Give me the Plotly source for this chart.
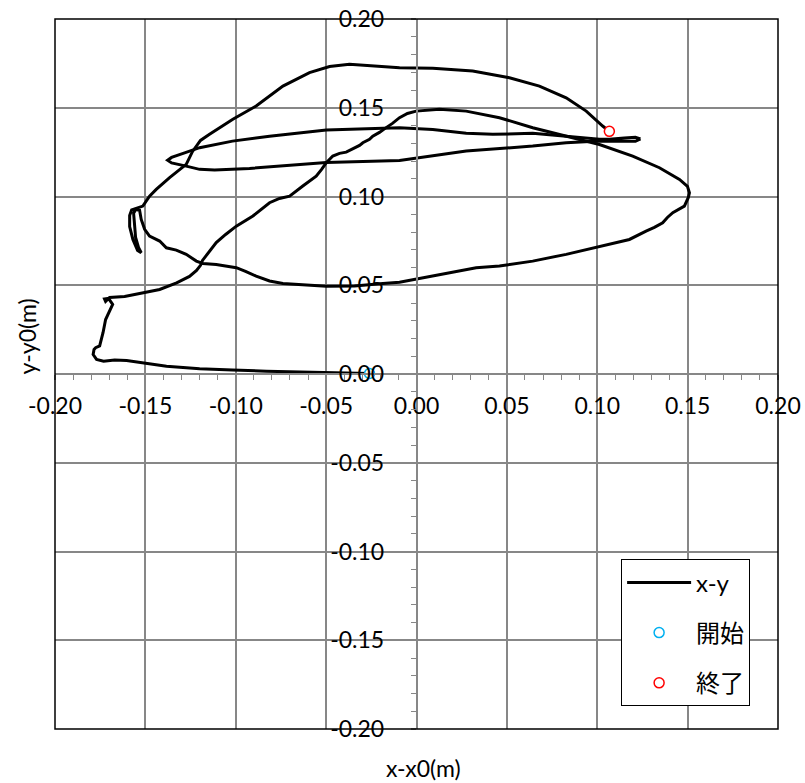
import plotly.graph_objects as go

# main trajectory (x-x0, y-y0) in metres
path_x = [-0.0260, -0.0465, -0.0647, -0.0830, -0.1018, -0.1200, -0.1383, -0.1515, -0.1604, -0.1670,
          -0.1731, -0.1770, -0.1789, -0.1784, -0.1775, -0.1753, -0.1742, -0.1734, -0.1720, -0.1698,
          -0.1681, -0.1704, -0.1726, -0.1720, -0.1698, -0.1615, -0.1515, -0.1421, -0.1327, -0.1256,
          -0.1217, -0.1195, -0.1184, -0.1145, -0.1108, -0.1056, -0.0997, -0.0905, -0.0857, -0.0813,
          -0.0758, -0.0702, -0.0629, -0.0592, -0.0555, -0.0525, -0.0499, -0.0463, -0.0426, -0.0389,
          -0.0370, -0.0352, -0.0315, -0.0297, -0.0260, -0.0242, -0.0205, -0.0168, -0.0133, -0.0094,
          -0.0050, -0.0002, 0.0127, 0.0275, 0.0459, 0.0643, 0.0828, 0.1012, 0.1196, 0.1344,
          0.1455, 0.1499, 0.1510, 0.1504, 0.1482, 0.1418, 0.1388, 0.1362, 0.1316, 0.1270,
          0.1178, 0.1012, 0.0828, 0.0643, 0.0459, 0.0330, 0.0090, -0.0094, -0.0186, -0.0343,
          -0.0499, -0.0647, -0.0739, -0.0813, -0.0887, -0.0946, -0.0997, -0.1108, -0.1182, -0.1218,
          -0.1274, -0.1329, -0.1384, -0.1421, -0.1477, -0.1504, -0.1523, -0.1532, -0.1554, -0.1565,
          -0.1560, -0.1554, -0.1538, -0.1523, -0.1543, -0.1569, -0.1587, -0.1587, -0.1576, -0.1549,
          -0.1527, -0.1514, -0.1477, -0.1440, -0.1366, -0.1274, -0.1239, -0.1217, -0.1195, -0.1145,
          -0.1016, -0.0887, -0.0739, -0.0592, -0.0481, -0.0371, -0.0260, -0.0094, 0.0090, 0.0311,
          0.0514, 0.0680, 0.0828, 0.0939, 0.1030, 0.1067]
path_y = [0.0003, 0.0007, 0.0011, 0.0016, 0.0023, 0.0029, 0.0044, 0.0063, 0.0076, 0.0079,
          0.0072, 0.0082, 0.0110, 0.0138, 0.0148, 0.0158, 0.0194, 0.0234, 0.0307, 0.0358,
          0.0392, 0.0426, 0.0423, 0.0409, 0.0431, 0.0437, 0.0458, 0.0476, 0.0514, 0.0550,
          0.0583, 0.0612, 0.0640, 0.0691, 0.0740, 0.0786, 0.0833, 0.0890, 0.0927, 0.0965,
          0.0989, 0.1002, 0.1059, 0.1085, 0.1115, 0.1153, 0.1191, 0.1228, 0.1243, 0.1250,
          0.1260, 0.1271, 0.1288, 0.1303, 0.1322, 0.1340, 0.1361, 0.1388, 0.1412, 0.1444,
          0.1468, 0.1481, 0.1491, 0.1481, 0.1444, 0.1387, 0.1340, 0.1293, 0.1228, 0.1162,
          0.1096, 0.1057, 0.1021, 0.0995, 0.0946, 0.0909, 0.0882, 0.0852, 0.0826, 0.0805,
          0.0758, 0.0717, 0.0674, 0.0636, 0.0608, 0.0599, 0.0551, 0.0517, 0.0510, 0.0496,
          0.0495, 0.0502, 0.0510, 0.0524, 0.0551, 0.0578, 0.0599, 0.0617, 0.0623, 0.0636,
          0.0674, 0.0698, 0.0711, 0.0749, 0.0777, 0.0815, 0.0871, 0.0922, 0.0927, 0.0905,
          0.0843, 0.0769, 0.0713, 0.0683, 0.0696, 0.0758, 0.0831, 0.0893, 0.0924, 0.0933,
          0.0939, 0.0946, 0.1002, 0.1040, 0.1106, 0.1181, 0.1254, 0.1288, 0.1316, 0.1350,
          0.1435, 0.1510, 0.1622, 0.1698, 0.1732, 0.1745, 0.1739, 0.1726, 0.1722, 0.1707,
          0.1669, 0.1622, 0.1556, 0.1481, 0.1397, 0.1367]

# closed horizontal loop of the trajectory (around y = 0.12-0.14)
loop_x = [0.1239, 0.1211, 0.1150, 0.1067, 0.1012, 0.0828, 0.0643, 0.0422, 0.0275, 0.0090,
          -0.0094, -0.0499, -0.0813, -0.1018, -0.1200, -0.1283, -0.1355, -0.1377, -0.1355, -0.1274,
          -0.1200, -0.1117, -0.0924, -0.0499, -0.0094, 0.0275, 0.0643, 0.0828, 0.1012, 0.1150,
          0.1211, 0.1239]
loop_y = [0.1325, 0.1334, 0.1330, 0.1322, 0.1322, 0.1340, 0.1356, 0.1350, 0.1356, 0.1378,
          0.1388, 0.1374, 0.1340, 0.1312, 0.1275, 0.1246, 0.1220, 0.1204, 0.1189, 0.1171,
          0.1153, 0.1150, 0.1158, 0.1191, 0.1203, 0.1256, 0.1284, 0.1303, 0.1313, 0.1311,
          0.1311, 0.1325]

start_x, start_y = [-0.0260], [0.0003]
end_x, end_y = [0.1067], [0.1367]

tick_vals = [-0.20, -0.15, -0.10, -0.05, 0.00, 0.05, 0.10, 0.15, 0.20]
tick_text = ["-0.20", "-0.15", "-0.10", "-0.05", "0.00", "0.05", "0.10", "0.15", "0.20"]

FONT = "Lato, 'Noto Sans CJK JP', sans-serif"
GRID = "#878787"

line_x = path_x + [None] + loop_x
line_y = path_y + [None] + loop_y

fig = go.Figure()
fig.add_trace(go.Scatter(x=line_x, y=line_y, mode="lines", name="x-y",
                         line=dict(color="black", width=3), legendgroup="a"))
fig.add_trace(go.Scatter(x=start_x, y=start_y, mode="markers", name="開始", legendgroup="b",
                         marker=dict(symbol="circle", size=10, color="white",
                                     line=dict(color="#00B0F0", width=1.5))))
fig.add_trace(go.Scatter(x=end_x, y=end_y, mode="markers", name="終了", legendgroup="c",
                         marker=dict(symbol="circle", size=10, color="white",
                                     line=dict(color="#FF0000", width=1.5))))

axis_common = dict(
    range=[-0.2, 0.2], tickvals=tick_vals, ticktext=tick_text,
    showgrid=True, gridcolor=GRID, gridwidth=1.5,
    zeroline=False, showline=True, linecolor=GRID, linewidth=1.5,
    ticks="outside", ticklen=5, tickcolor=GRID, tickwidth=1.5,
    minor=dict(dtick=0.01, ticks="outside", ticklen=5, tickcolor=GRID, tickwidth=1, showgrid=False),
    tickfont=dict(family=FONT, size=23, color="black"),
    anchor="free", position=0.5, fixedrange=True, automargin=False,
    ticklabeloverflow="allow",
)

fig.update_layout(
    width=805, height=783,
    margin=dict(l=55, r=27, t=19, b=54, autoexpand=False),
    paper_bgcolor="white", plot_bgcolor="white",
    font=dict(family=FONT, color="black"),
    xaxis=dict(**axis_common, ticklabelstandoff=7),
    yaxis=dict(**axis_common, ticklabelstandoff=22),
    showlegend=True,
    legend=dict(x=0.783, y=0.239, xanchor="left", yanchor="top",
                bgcolor="white", bordercolor="black", borderwidth=1,
                font=dict(family=FONT, size=24, color="black"),
                traceorder="grouped", tracegroupgap=16, itemwidth=64),
    shapes=[dict(type="rect", xref="paper", yref="paper", x0=0, y0=0, x1=1, y1=1,
                 line=dict(color="black", width=1.5), layer="above")],
    annotations=[
        dict(text="x-x0(m)", xref="paper", yref="paper", x=0.509, y=-0.055,
             showarrow=False, font=dict(family=FONT, size=23, color="black"),
             xanchor="center", yanchor="middle"),
        dict(text="y-y0(m)", xref="paper", yref="paper", x=-0.038, y=0.552,
             showarrow=False, textangle=-90, font=dict(family=FONT, size=23, color="black"),
             xanchor="center", yanchor="middle"),
    ],
)

# remove the default page margin so the figure fills the 805x783 window
fig.write_html("out.html", config={"displayModeBar": False},
               post_script="document.body.style.margin='0';document.body.style.overflow='hidden';")
